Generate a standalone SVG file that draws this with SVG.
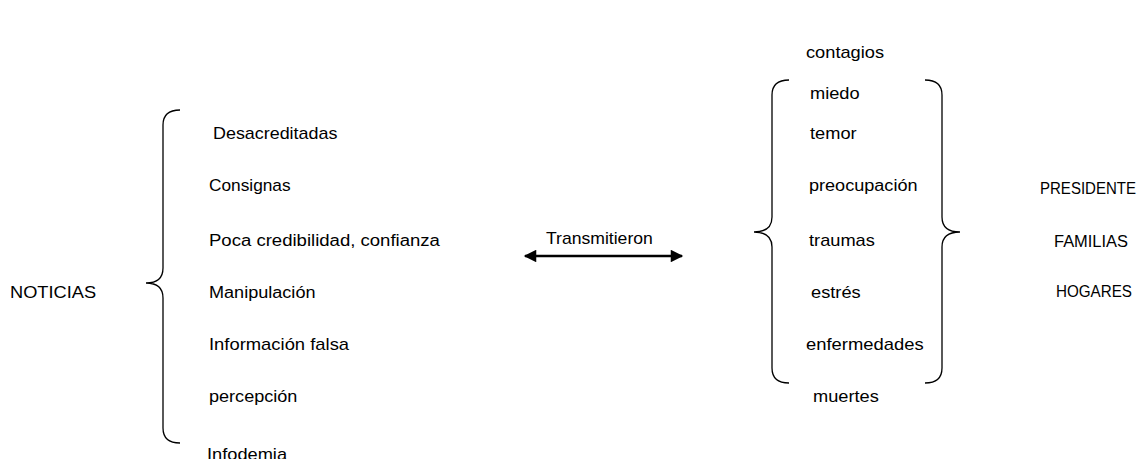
<svg xmlns="http://www.w3.org/2000/svg" width="1140" height="459" viewBox="0 0 1140 459">
<defs>
<style>
text{font-family:"Liberation Sans",Arial,sans-serif;font-size:16px;fill:#000}
.br{fill:none;stroke:#000;stroke-width:1.3}
.ar{stroke:#000;stroke-width:2.5;fill:none}
</style>
<marker id="ah" viewBox="0 0 10 10" refX="9" refY="5" markerWidth="6" markerHeight="5" markerUnits="strokeWidth" orient="auto-start-reverse">
<path d="M0,0 L10,5 L0,10 Z" fill="#000"/>
</marker>
</defs>
<rect width="1140" height="459" fill="#fff"/>
<g id="noticias"><text transform="matrix(1.14 0 0 1 10 298)">NOTICIAS</text></g>
<g id="left-list">
<text transform="matrix(1.12 0 0 1 213 139)">Desacreditadas</text>
<text transform="matrix(1.08 0 0 1 209 191)">Consignas</text>
<text transform="matrix(1.16 0 0 1 209 246)">Poca credibilidad, confianza</text>
<text transform="matrix(1.13 0 0 1 209 298)">Manipulación</text>
<text transform="matrix(1.15 0 0 1 209 350)">Información falsa</text>
<text transform="matrix(1.13 0 0 1 209 402)">percepción</text>
<text transform="matrix(1.14 0 0 1 207 460)">Infodemia</text>
</g>
<g id="transmitieron"><text transform="matrix(1.1 0 0 1 546 244)">Transmitieron</text></g>
<g id="right-list">
<text transform="matrix(1.14 0 0 1 806 58)">contagios</text>
<text transform="matrix(1.14 0 0 1 810 99)">miedo</text>
<text transform="matrix(1.14 0 0 1 810 139)">temor</text>
<text transform="matrix(1.13 0 0 1 809 191)">preocupación</text>
<text transform="matrix(1.14 0 0 1 809 246)">traumas</text>
<text transform="matrix(1.14 0 0 1 811 298)">estrés</text>
<text transform="matrix(1.15 0 0 1 806 350)">enfermedades</text>
<text transform="matrix(1.14 0 0 1 813 402)">muertes</text>
</g>
<g id="targets">
<text x="1040" y="194" font-size="15" textLength="96" lengthAdjust="spacingAndGlyphs">PRESIDENTE</text>
<text x="1054" y="247" font-size="15.5" textLength="74" lengthAdjust="spacingAndGlyphs">FAMILIAS</text>
<text x="1056" y="297" font-size="15.5" textLength="76" lengthAdjust="spacingAndGlyphs">HOGARES</text>
</g>
<g id="braces">
<path class="br" d="M180,110 Q163,110 163,125 L163,268 Q163,283 146,283 Q163,283 163,298 L163,428 Q163,443 180,443"/>
<path class="br" d="M789,80 Q772,80 772,95 L772,217 Q772,232 754,232 Q772,232 772,247 L772,368 Q772,383 789,383"/>
<path class="br" d="M925,80 Q942,80 942,95 L942,217 Q942,232 960,232 Q942,232 942,247 L942,368 Q942,383 925,383"/>
</g>
<g id="connectors">
<line class="ar" x1="525" y1="256" x2="682" y2="256" marker-start="url(#ah)" marker-end="url(#ah)"/>
</g>
</svg>
